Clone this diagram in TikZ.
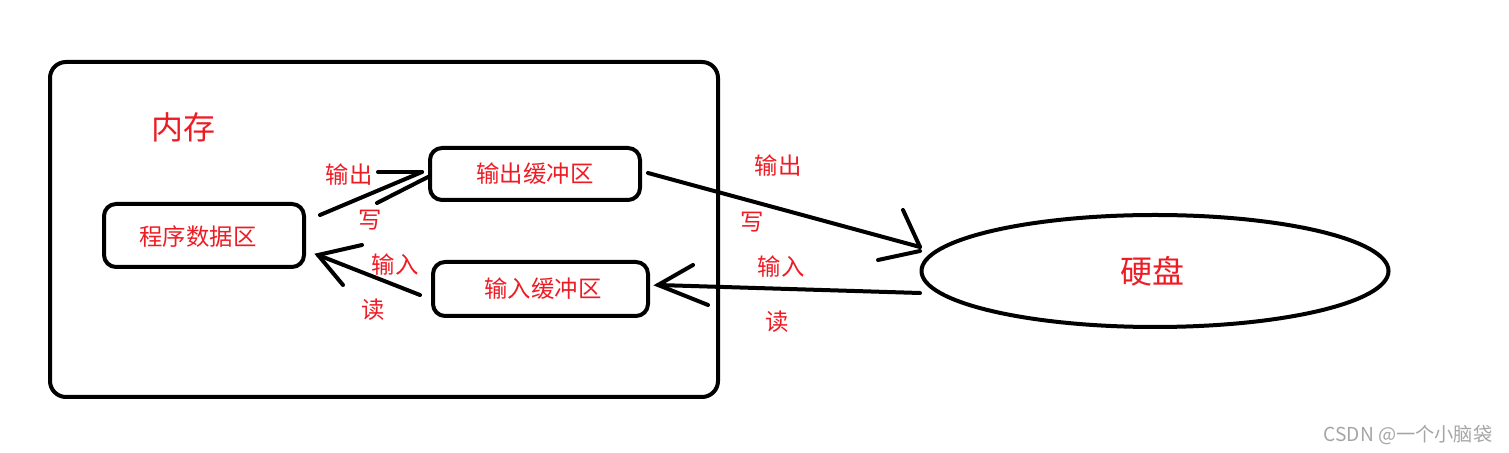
\documentclass[tikz,border=0pt]{standalone}
\usepackage{fontspec}
\newfontfamily\cjk{Noto Sans CJK SC}
\usetikzlibrary{shapes.geometric}
\definecolor{paintred}{RGB}{237,28,36}
\definecolor{markgray}{RGB}{165,165,165}

\begin{document}
\begin{tikzpicture}[x=0.5pt, y=-0.5pt, line width=2pt, line cap=round,
  box/.style={draw, rectangle, rounded corners=6pt, line width=2pt},
  lbl/.style={text=paintred, inner sep=0pt, font=\cjk\fontsize{11.7}{13}\selectfont},
  big/.style={text=paintred, inner sep=0pt, font=\cjk\fontsize{16}{18}\selectfont},
  a/.style={line width=2pt}]

  \useasboundingbox (0,0) rectangle (1509,453);

  % memory frame and its buffers
  \node[box, rounded corners=8pt, minimum width=334pt, minimum height=167.5pt]
    (mem) at (384,229.5) {};
  \node[big] (memlbl) at (183,127) {内存};
  \node[box, minimum width=100pt, minimum height=31.5pt] (prog) at (204,235.5) {};
  \node[lbl] at (198,237) {程序数据区};
  \node[box, minimum width=105pt, minimum height=26pt] (obuf) at (535,174) {};
  \node[lbl] at (obuf) {输出缓冲区};
  \node[box, minimum width=107.5pt, minimum height=27pt] (ibuf) at (540.5,289) {};
  \node[lbl] at (543,289) {输入缓冲区};

  % disk
  \node[draw, ellipse, line width=2pt, minimum width=233.5pt, minimum height=56pt,
    inner sep=0pt] (disk) at (1155,271) {};
  \node[big] at (1152,271) {硬盘};

  % hand drawn arrow ends
  \coordinate (w1s) at (320,215);  \coordinate (w1e) at (422,172);
  \coordinate (r1s) at (420,295);  \coordinate (r1e) at (318,255);
  \coordinate (w2s) at (648,173);  \coordinate (w2e) at (920,247);
  \coordinate (r2s) at (920,293);  \coordinate (r2e) at (658,285);

  % program -> output buffer (write)
  \draw[a] (w1s) -- (w1e);
  \draw[a] (378,172) -- (w1e);
  \draw[a] (377,203) -- (428,177);

  % input buffer -> program (read)
  \draw[a] (r1s) -- (r1e);
  \draw[a] (362,245) -- (r1e) -- (343,285);

  % output buffer -> disk
  \draw[a] (w2s) -- (w2e);
  \draw[a] (903,210) -- (w2e);
  \draw[a] (878,260) -- (920,251);

  % disk -> input buffer
  \draw[a] (r2s) -- (r2e);
  \draw[a] (693,265) -- (r2e) -- (708,305);

  % arrow labels
  \node[lbl] (l1) at (349,175) {输出};
  \node[lbl] (l2) at (370,220) {写};
  \node[lbl] (l3) at (395,265) {输入};
  \node[lbl] (l4) at (373,310) {读};
  \node[lbl] (l5) at (778,166) {输出};
  \node[lbl] (l6) at (752,222) {写};
  \node[lbl] (l7) at (781,267) {输入};
  \node[lbl] (l8) at (777,322) {读};

  % watermark
  \node[text=markgray, inner sep=0pt, font=\cjk\fontsize{9.6}{11}\selectfont]
    (mark) at (1408,435) {CSDN @一个小脑袋};

\end{tikzpicture}
\end{document}
